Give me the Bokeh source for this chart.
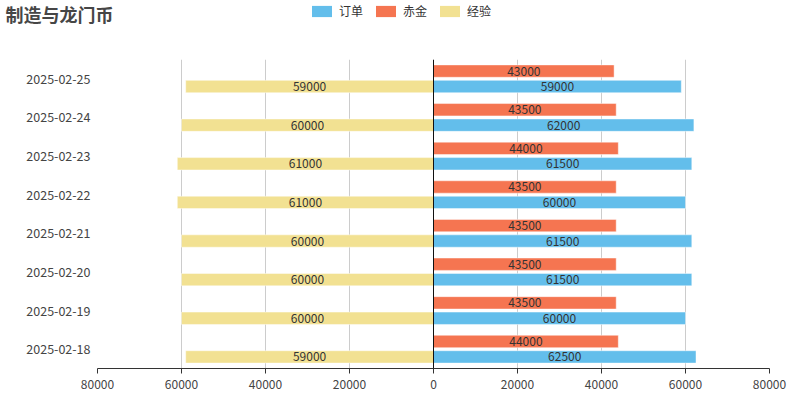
from bokeh.plotting import figure
from bokeh.layouts import column
from bokeh.models import FactorRange, Range1d, FixedTicker, Legend, LegendItem, ColumnDataSource, Span
from bokeh.transform import dodge
from bokeh.core.properties import value
from bokeh.embed import file_html
from bokeh.resources import INLINE

dates = ["2025-02-18", "2025-02-19", "2025-02-20", "2025-02-21",
         "2025-02-22", "2025-02-23", "2025-02-24", "2025-02-25"]
orders = [62500, 60000, 61500, 61500, 60000, 61500, 62000, 59000]   # 订单
gold = [44000, 43500, 43500, 43500, 43500, 44000, 43500, 43000]     # 赤金
exp = [59000, 60000, 60000, 60000, 61000, 61000, 60000, 59000]      # 经验
x_ticks = [-80000, -60000, -40000, -20000, 0, 20000, 40000, 60000, 80000]
series_names = ["订单", "赤金", "经验"]
title_text = "制造与龙门币"

FONT = "Noto Sans CJK SC"
C_ORDER = "#63BEEB"
C_GOLD = "#F57551"
C_EXP = "#F2E192"
colors = [C_ORDER, C_GOLD, C_EXP]

# ---------- header (title + legend) ----------
HEAD_H = 59
head = figure(width=800, height=HEAD_H, x_range=Range1d(0, 800), y_range=Range1d(HEAD_H, 0),
              output_backend="svg", toolbar_location=None, x_axis_type=None, y_axis_type=None,
              min_border=0, frame_align=False)
head.outline_line_color = None
head.grid.grid_line_color = None
head.text(x=[5], y=[13], text=[title_text], text_font=value(FONT), text_font_size="18px",
          text_font_style="bold", text_color="#464646", text_baseline="middle", text_align="left")
dummy = []
for c in colors:
    dummy.append(head.hbar(y=[0], left=[0], right=[0], height=0, fill_color=c, line_color=None))
legend = Legend(items=[LegendItem(label=n, renderers=[r]) for n, r in zip(series_names, dummy)],
                orientation="horizontal", location=(309, 40),
                glyph_width=25, glyph_height=14, label_standoff=5, spacing=10,
                label_height=14, label_width=10,
                padding=0, margin=0, border_line_color=None, background_fill_alpha=0,
                label_text_font=FONT, label_text_font_size="12px",
                label_text_color="#333333", label_text_baseline="middle")
head.add_layout(legend, "center")

# ---------- main chart ----------
src = ColumnDataSource(dict(
    date=dates,
    orders=orders, gold=gold,
    exp_neg=[-v for v in exp],
    orders_mid=[v / 2 for v in orders],
    gold_mid=[v / 2 for v in gold],
    exp_mid=[-v / 2 for v in exp],
    orders_lbl=[str(v) for v in orders],
    gold_lbl=[str(v) for v in gold],
    exp_lbl=[str(v) for v in exp],
))

p = figure(width=800, height=400 - HEAD_H, y_range=FactorRange(*dates),
           x_range=Range1d(-80000, 80000), output_backend="svg",
           toolbar_location=None, min_border_left=97, min_border_right=31,
           min_border_top=0, min_border_bottom=32, frame_align=False)
p.outline_line_color = None

H = 0.32
up = dodge("date", 0.2, range=p.y_range)
dn = dodge("date", -0.2, range=p.y_range)

r_gold = p.hbar(y=up, left=0, right="gold", height=H, source=src,
                fill_color=C_GOLD, line_color="white", line_alpha=0.45, line_width=1)
r_order = p.hbar(y=dn, left=0, right="orders", height=H, source=src,
                 fill_color=C_ORDER, line_color="white", line_alpha=0.45, line_width=1)
r_exp = p.hbar(y=dn, left="exp_neg", right=0, height=H, source=src,
               fill_color=C_EXP, line_color="white", line_alpha=0.45, line_width=1)

for xcol, ycol, lcol in [("gold_mid", up, "gold_lbl"), ("orders_mid", dn, "orders_lbl"),
                         ("exp_mid", dn, "exp_lbl")]:
    p.text(x=xcol, y=ycol, text=lcol, source=src, text_align="center",
           text_baseline="middle", text_font=value(FONT), text_font_size="12px",
           text_color="#333333")

p.add_layout(Span(location=0, dimension="height", line_color="#111111", line_width=1))

# axes
p.xaxis.ticker = FixedTicker(ticks=x_ticks)
p.xaxis.major_label_overrides = {t: str(abs(t)) for t in x_ticks}
p.xaxis.axis_line_color = "#333333"
p.xaxis.major_tick_line_color = "#333333"
p.xaxis.major_tick_out = 5
p.xaxis.major_tick_in = 0
p.xaxis.minor_tick_line_color = None
p.xaxis.major_label_text_font = FONT
p.xaxis.major_label_text_font_size = "12px"
p.xaxis.major_label_text_color = "#444444"
p.xaxis.major_label_standoff = 6

p.yaxis.axis_line_color = None
p.yaxis.major_tick_line_color = None
p.yaxis.minor_tick_line_color = None
p.yaxis.major_tick_out = 0
p.yaxis.major_tick_in = 0
p.yaxis.major_label_text_font = FONT
p.yaxis.major_label_text_font_size = "12.5px"
p.yaxis.major_label_text_color = "#444444"
p.yaxis.major_label_standoff = 7

p.ygrid.grid_line_color = None
p.xgrid.grid_line_color = "#cccccc"
p.xgrid.ticker = FixedTicker(ticks=x_ticks)

layout = column(head, p, spacing=0)
open("out.html", "w").write(file_html(layout, INLINE))
